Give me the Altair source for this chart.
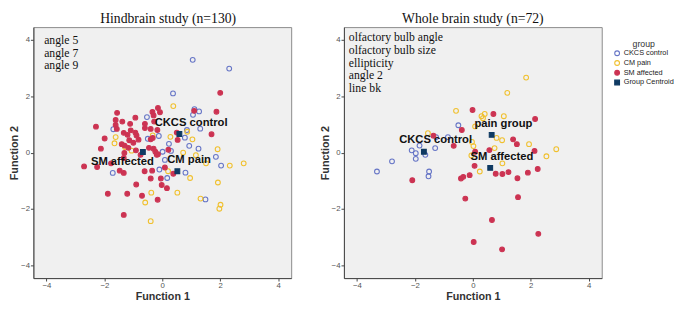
import altair as alt
import pandas as pd

GROUPS = ["CKCS control", "CM pain", "SM affected", "Group Centroid"]
STROKES = ["#6675c6", "#f0c02e", "#cc3352", "#0f3a62"]
FILLS = ["transparent", "transparent", "#cc3352", "#0f3a62"]
SHAPES = ["circle", "circle", "circle", "square"]
SIZES = [24, 24, 21, 64]

# ---- Hindbrain study (n=130) ----
hb_title = "Hindbrain study (n=130)"
hb_notes = ["angle 5", "angle 7", "angle 9"]
hb_ctrl_x = [1.05, 2.31, 0.37, 1.11, 1.27, 1.06, -0.53, -1.69, 1.31, -0.12, -0.50, 0.78, 0.23,
             0.93, 1.25, 0.01, 1.85, 2.03, 0.09, -0.10, 0.80, 0.17, -1.71, 1.49, 0.85, 0.30]
hb_ctrl_y = [3.29, 2.98, 2.10, 1.54, 1.46, 1.34, 1.26, 0.83, 0.85, 0.59, 0.49, 0.53, 0.31,
             0.24, 0.14, 0.03, -0.15, -0.46, -0.26, -0.60, -0.71, -0.90, -0.72, -1.66, 0.80, 0.06]
hb_pain_x = [0.38, 0.86, 0.28, 1.04, 1.91, 0.72, 1.16, -1.61, -1.65, -1.06, 2.81, 2.33, 1.51,
             0.20, 0.96, 1.92, 0.52, -0.38, 1.32, 2.01, 1.97, -0.59, -0.40, -0.33, -1.29]
hb_pain_y = [1.65, 0.74, 0.56, 0.47, 0.12, 0.00, -0.09, 0.55, 0.33, 0.07, -0.38, -0.46, -0.38,
             -0.66, -0.90, -1.06, -1.42, -1.42, -1.63, -1.85, -1.99, -1.77, -2.43, 0.61, 0.20]
hb_sm_x = [2.00, 1.87, 1.10, 1.70, -2.29, -1.56, -1.61, -1.38, -0.93, -1.61, -1.57, -1.11, -1.09,
           -1.33, -1.20, -0.93, -0.89, -0.60, -0.60, -1.99, -1.14, -0.82, -1.40, -1.30, -1.17,
           -0.91, -1.31, -2.12, -1.33, -0.34, -0.30, -0.15, -0.08, -0.40, -0.28, -0.17, -0.40,
           -0.33, -0.46, -0.30, -0.15, 0.53, 0.50, 0.21, -0.24, -0.19, -2.70, -2.25, -1.77,
           -1.47, -1.33, -0.61, -0.35, -0.90, -0.40, -0.05, -1.88, -1.21, -0.70, -0.16, -1.33,
           -0.02, 0.16, 0.09, 0.38, -0.75, -1.00]
hb_sm_y = [2.12, 1.45, 1.48, 0.65, 0.92, 1.41, 1.16, 1.10, 1.24, 0.98, 0.84, 1.02, 0.79,
           0.70, 0.63, 0.71, 0.61, 1.02, 0.87, 0.50, 0.44, 0.46, 0.30, 0.25, 0.17,
           0.08, -0.01, 0.14, -0.19, 1.44, 1.32, 1.58, 1.43, 0.84, 1.10, 0.80, 0.47,
           0.52, 0.17, 0.14, -0.06, 0.45, 0.71, 0.10, 0.03, -0.08, -0.49, -0.51, -0.38,
           -0.64, -0.72, -0.66, -0.64, -1.13, -0.92, -0.92, -1.46, -1.46, -1.53, -1.67, -2.21,
           -1.15, -1.26, -0.53, -0.75, -0.08, 0.35]
hb_cen_names = ["CKCS control", "SM affected", "CM pain"]
hb_cen_x = [0.59, -0.67, 0.52]
hb_cen_y = [0.66, 0.02, -0.66]

# ---- Whole brain study (n=72) ----
wb_title = "Whole brain study  (n=72)"
wb_notes = ["olfactory bulb angle", "olfactory bulb size", "ellipticity", "angle 2", "line bk"]
wb_ctrl_x = [-0.50, -1.27, -0.86, -1.30, -2.11, -1.97, -1.97, -1.64, -1.84, -2.79, -3.31, -1.51, -1.53]
wb_ctrl_y = [0.97, 0.55, 0.55, 0.16, 0.08, -0.02, -0.22, -0.08, 0.25, -0.31, -0.67, -0.67, -0.84]
wb_pain_x = [1.84, 1.19, -0.58, 0.30, 0.41, 0.35, 1.07, 0.08, -1.55, -0.03, 0.02, 0.82, 1.01,
             1.94, 2.88, 2.54, 0.75, -0.05, 0.24, 1.02]
wb_pain_y = [2.66, 2.12, 1.48, 1.29, 1.37, 1.22, 1.29, 0.93, 0.69, 0.38, 0.23, 0.52, 0.44,
             0.30, 0.12, -0.13, 0.16, -0.10, -0.67, -0.38]
wb_sm_x = [-0.01, 0.71, 2.15, -0.38, -1.36, -0.66, 0.08, 1.39, 1.52, 2.13, 0.57, 0.06, 0.79,
           1.02, 1.23, 1.90, 2.24, 1.54, -0.11, -0.41, -0.33, -0.26, 1.56, 0.66, 2.26, 0.03,
           1.01, -2.09]
wb_sm_y = [1.51, 1.37, 1.19, 0.80, 0.60, 0.24, 0.03, 0.47, 0.30, 0.06, 0.09, -0.47, -0.75,
           -0.76, -0.69, -0.71, -0.58, -0.91, -0.80, -0.92, -0.86, -1.63, -1.58, -2.39, -2.88,
           -3.17, -3.43, -0.98]
wb_cen_names = ["CKCS control", "pain group", "SM affected"]
wb_cen_x = [-1.69, 0.65, 0.60]
wb_cen_y = [0.03, 0.63, -0.54]

TICKS = [-4, -2, 0, 2, 4]
DOMAIN = [-4.45, 4.45]
W, H = 264, 257


def panel(title, notes, note_dx, note_dy, cx, cy, px, py, sx, sy, cnames, cenx, ceny,
          offsets, title_dx):
    rows = []
    for g, xs, ys in [(GROUPS[0], cx, cy), (GROUPS[1], px, py), (GROUPS[2], sx, sy)]:
        rows += [{"group": g, "f1": a, "f2": b, "label": ""} for a, b in zip(xs, ys)]
    rows += [{"group": GROUPS[3], "f1": a, "f2": b, "label": n}
             for n, a, b in zip(cnames, cenx, ceny)]
    df = pd.DataFrame(rows)
    base = alt.Chart(df)
    xenc = alt.X("f1:Q", scale=alt.Scale(domain=DOMAIN, nice=False, zero=False),
                 axis=alt.Axis(values=TICKS, title="Function 1"))
    yenc = alt.Y("f2:Q", scale=alt.Scale(domain=DOMAIN, nice=False, zero=False),
                 axis=alt.Axis(values=TICKS, title="Function 2"))
    pts = base.mark_point(strokeWidth=1.1, opacity=1).encode(
        x=xenc, y=yenc,
        stroke=alt.Stroke("group:N", title="group",
                          scale=alt.Scale(domain=GROUPS, range=STROKES)),
        fill=alt.Fill("group:N", title="group",
                      scale=alt.Scale(domain=GROUPS, range=FILLS)),
        shape=alt.Shape("group:N", title="group",
                        scale=alt.Scale(domain=GROUPS, range=SHAPES)),
        size=alt.Size("group:N", title="group",
                      scale=alt.Scale(domain=GROUPS, range=SIZES)),
    )
    layers = [pts]
    for name, (dx, dy) in zip(cnames, offsets):
        layers.append(
            base.transform_filter(alt.datum.label == name)
            .mark_text(dx=dx, dy=dy, font="Liberation Sans", fontSize=11.5,
                       fontWeight="bold", color="#111", align="center", baseline="middle")
            .encode(x="f1:Q", y="f2:Q", text="label:N")
        )
    layers.append(
        alt.Chart(pd.DataFrame({"k": [0]}))
        .mark_text(font="Liberation Serif", fontSize=12, color="#111", align="left",
                   baseline="top", lineHeight=13.2)
        .encode(x=alt.value(note_dx), y=alt.value(note_dy), text=alt.value(notes))
    )
    return alt.layer(*layers).properties(
        width=W, height=H,
        title=alt.Title(title, font="Liberation Serif", fontSize=14, fontWeight="normal",
                        color="#111", offset=1, dx=title_dx),
    )


left = panel(hb_title, hb_notes, 11, 8, hb_ctrl_x, hb_ctrl_y, hb_pain_x, hb_pain_y,
             hb_sm_x, hb_sm_y, hb_cen_names, hb_cen_x, hb_cen_y,
             [(12, -11), (-21, 10), (12, -11.5)], 6)
right = panel(wb_title, wb_notes, 5, 5, wb_ctrl_x, wb_ctrl_y, wb_pain_x, wb_pain_y,
              wb_sm_x, wb_sm_y, wb_cen_names, wb_cen_x, wb_cen_y,
              [(12, -11.5), (12, -11), (12, -11)], 0)

chart = (
    alt.hconcat(left, right, spacing=27)
    .properties(padding={"left": 0, "top": 0, "right": 0, "bottom": 0})
    .configure_view(fill="#f0f0f0", stroke="#8a8a8a", strokeWidth=1)
    .configure_axis(grid=False, domainColor="#444", tickColor="#444", tickSize=3,
                    labelFont="Liberation Sans", labelFontSize=8, labelColor="#555",
                    labelPadding=1, titleFont="Liberation Sans", titleFontSize=11,
                    titleFontWeight="bold", titleColor="#333", titlePadding=1)
    .configure_legend(orient="none", legendX=594, legendY=13, titleFont="Liberation Sans",
                      titleFontSize=9, titleFontWeight="normal", titleColor="#333",
                      titleAnchor="middle", titlePadding=1, labelFont="Liberation Sans",
                      labelFontSize=7.5, labelColor="#222", rowPadding=0, labelOffset=3,
                      padding=0, symbolStrokeWidth=1.1)
)

chart.save("out.html", embed_options={"renderer": "svg", "actions": False})
